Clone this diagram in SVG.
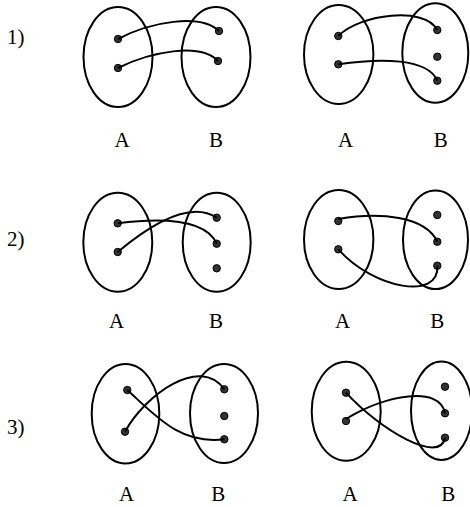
<svg xmlns="http://www.w3.org/2000/svg" width="470" height="507" viewBox="0 0 470 507">
<style>
.set{fill:none;stroke:#000;stroke-width:2}
.dot{fill:#333;stroke:#000;stroke-width:1}
.edge{fill:none;stroke:#000;stroke-width:2}
text{font-family:"Liberation Serif","Times New Roman",serif;font-size:21px;fill:#000}
.lbl{text-anchor:middle}
</style>
<rect width="470" height="507" fill="#fff"/>
<text x="7" y="44">1)</text>
<text x="7" y="246">2)</text>
<text x="7" y="434">3)</text>

<g id="p1L">
<g id="p1L-A"><ellipse class="set" cx="118" cy="57" rx="34.5" ry="50"/><circle class="dot" cx="118" cy="39" r="3.7"/><circle class="dot" cx="118" cy="68" r="3.7"/><text class="lbl" x="122" y="147">A</text></g>
<g id="p1L-B"><ellipse class="set" cx="216" cy="57" rx="34.5" ry="50"/><circle class="dot" cx="219" cy="31" r="3.7"/><circle class="dot" cx="218" cy="61" r="3.7"/><text class="lbl" x="216" y="147">B</text></g>
</g>
<g id="p1R">
<g id="p1R-A"><ellipse class="set" cx="338.7" cy="54.5" rx="34.7" ry="49.5"/><circle class="dot" cx="338.3" cy="36" r="3.7"/><circle class="dot" cx="338.3" cy="64.3" r="3.7"/><text class="lbl" x="345.7" y="147">A</text></g>
<g id="p1R-B"><ellipse class="set" cx="435.3" cy="53" rx="33" ry="49.7"/><circle class="dot" cx="437.3" cy="30" r="3.7"/><circle class="dot" cx="437.3" cy="56.7" r="3.7"/><circle class="dot" cx="437.3" cy="80.7" r="3.7"/><text class="lbl" x="440.7" y="147">B</text></g>
</g>
<g id="p2L">
<g id="p2L-A"><ellipse class="set" cx="117.8" cy="242.2" rx="34.5" ry="49.5"/><circle class="dot" cx="117.7" cy="223.3" r="3.7"/><circle class="dot" cx="117.7" cy="252" r="3.7"/><text class="lbl" x="116.7" y="328">A</text></g>
<g id="p2L-B"><ellipse class="set" cx="216.7" cy="242.3" rx="34" ry="49.5"/><circle class="dot" cx="216.7" cy="217.7" r="3.7"/><circle class="dot" cx="216.7" cy="243.7" r="3.7"/><circle class="dot" cx="216.7" cy="268.3" r="3.7"/><text class="lbl" x="216" y="328">B</text></g>
</g>
<g id="p2R">
<g id="p2R-A"><ellipse class="set" cx="338.7" cy="239.5" rx="34.7" ry="49.5"/><circle class="dot" cx="338.3" cy="221" r="3.7"/><circle class="dot" cx="338.3" cy="249.3" r="3.7"/><text class="lbl" x="342.7" y="328">A</text></g>
<g id="p2R-B"><ellipse class="set" cx="435.5" cy="239.8" rx="32.5" ry="49.3"/><circle class="dot" cx="437.3" cy="215" r="3.7"/><circle class="dot" cx="437.3" cy="241.7" r="3.7"/><circle class="dot" cx="437.3" cy="265.7" r="3.7"/><text class="lbl" x="437.3" y="328">B</text></g>
</g>
<g id="p3L">
<g id="p3L-A"><ellipse class="set" cx="125.5" cy="413.7" rx="33.8" ry="49.7"/><circle class="dot" cx="127.3" cy="390" r="3.7"/><circle class="dot" cx="125" cy="431.7" r="3.7"/><text class="lbl" x="126.7" y="501">A</text></g>
<g id="p3L-B"><ellipse class="set" cx="224" cy="413.5" rx="34" ry="49.5"/><circle class="dot" cx="224.3" cy="389.3" r="3.7"/><circle class="dot" cx="224.3" cy="416" r="3.7"/><circle class="dot" cx="224.3" cy="439.3" r="3.7"/><text class="lbl" x="218.3" y="501">B</text></g>
</g>
<g id="p3R">
<g id="p3R-A"><ellipse class="set" cx="346.2" cy="411.2" rx="34.5" ry="49.5"/><circle class="dot" cx="346" cy="392.7" r="3.7"/><circle class="dot" cx="346" cy="421" r="3.7"/><text class="lbl" x="350" y="501">A</text></g>
<g id="p3R-B"><ellipse class="set" cx="441.5" cy="410.8" rx="30.5" ry="49.2"/><circle class="dot" cx="445" cy="386.7" r="3.7"/><circle class="dot" cx="445" cy="413.3" r="3.7"/><circle class="dot" cx="445" cy="437.7" r="3.7"/><text class="lbl" x="448.3" y="501">B</text></g>
</g>

<g id="connectors">
<path class="edge" d="M118,39 C150,22 200,13 219,31"/>
<path class="edge" d="M118,68 C150,52 200,42 218,61"/>
<path class="edge" d="M338.3,36 C360,14 425,6 437.3,30"/>
<path class="edge" d="M338.3,64.3 C380,58 428,58 437.3,80.7"/>
<path class="edge" d="M117.7,223.3 C160,218 205,218 216.7,243.7"/>
<path class="edge" d="M117.7,252 C150,225 190,200 216.7,217.7"/>
<path class="edge" d="M338.3,219 C380,212 425,216 437.3,241.7"/>
<path class="edge" d="M338.3,249.3 C375,290 440,300 437.3,265.7"/>
<path class="edge" d="M127.3,390 C155,415 180,445 224.3,439.3"/>
<path class="edge" d="M125,431.7 C145,395 200,355 224.3,389.3"/>
<path class="edge" d="M346,392.7 C380,430 440,465 445,437.7"/>
<path class="edge" d="M346,419 C385,395 440,385 445,413.3"/>
</g>
</svg>
